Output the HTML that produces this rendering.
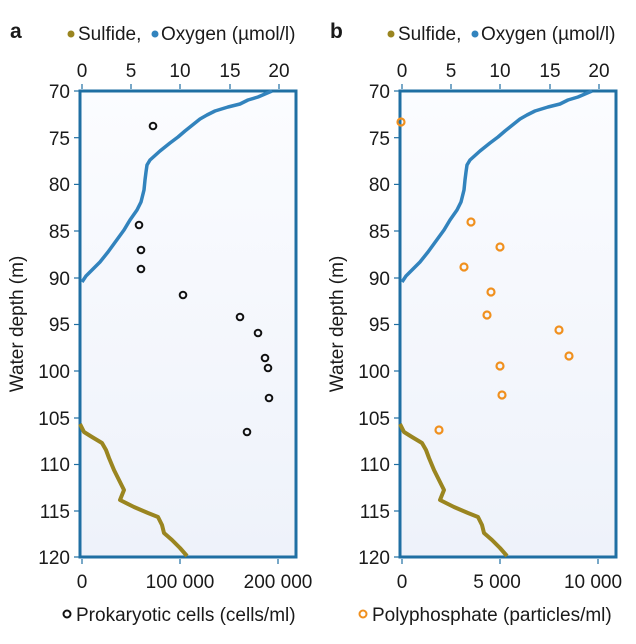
<!DOCTYPE html>
<html><head><style>body{margin:0;background:#fff}svg{display:block}text{font-family:"Liberation Sans",Arial,sans-serif;fill:#1a1a1a}</style></head><body>
<svg width="636" height="644" viewBox="0 0 636 644" xmlns="http://www.w3.org/2000/svg">
<defs>
<linearGradient id="bg" x1="0" y1="0" x2="0" y2="1"><stop offset="0" stop-color="#fbfcff"/><stop offset="1" stop-color="#eef2fa"/></linearGradient>
<g id="panel">
<rect x="80" y="91" width="216" height="466" fill="url(#bg)" stroke="#1f6fa3" stroke-width="3"/>
<path d="M272,91 L265,94 L258,97 L248,100 L240,104 L228,107 L215,111 L207,115 L200,119 L190,127 L185,131 L178,137 L170,143 L160,151 L150,160 L147,165 L146,172 L145,180 L144,190 L141,202 L137,210 L130,220 L124,230 L116,241 L108,252 L100,262 L92,270 L86,276 L82,282" fill="none" stroke="#3283bd" stroke-width="3.5" stroke-linejoin="round"/>
<path d="M80,424 L84,432 L92,437 L102,443 L106,450 L109,458 L114,470 L119,480 L124,490 L120,500 L134,507 L148,513 L158,517 L162,525 L164,533 L172,540 L180,548 L187,556" fill="none" stroke="#9a8520" stroke-width="4" stroke-linejoin="round"/>
<g stroke="#1f6fa3" stroke-width="1.2">
<line x1="82" y1="84" x2="82" y2="89"/><line x1="131" y1="84" x2="131" y2="89"/><line x1="180" y1="84" x2="180" y2="89"/><line x1="230" y1="84" x2="230" y2="89"/><line x1="279" y1="84" x2="279" y2="89"/>
<line x1="74" y1="91" x2="79" y2="91"/><line x1="74" y1="137.7" x2="79" y2="137.7"/><line x1="74" y1="184.4" x2="79" y2="184.4"/><line x1="74" y1="231" x2="79" y2="231"/><line x1="74" y1="278" x2="79" y2="278"/><line x1="74" y1="324.5" x2="79" y2="324.5"/><line x1="74" y1="371" x2="79" y2="371"/><line x1="74" y1="418" x2="79" y2="418"/><line x1="74" y1="464.5" x2="79" y2="464.5"/><line x1="74" y1="511" x2="79" y2="511"/><line x1="74" y1="557" x2="79" y2="557"/>
<line x1="82" y1="559" x2="82" y2="564"/><line x1="180" y1="559" x2="180" y2="564"/><line x1="278" y1="559" x2="278" y2="564"/>
</g>
<g font-size="19" text-anchor="middle">
<text x="82" y="77">0</text><text x="131" y="77">5</text><text x="180" y="77">10</text><text x="230" y="77">15</text><text x="279" y="77">20</text>
</g>
<g font-size="19" text-anchor="end">
<text x="70" y="98">70</text><text x="70" y="145">75</text><text x="70" y="191">80</text><text x="70" y="238">85</text><text x="70" y="285">90</text><text x="70" y="331">95</text><text x="70" y="378">100</text><text x="70" y="425">105</text><text x="70" y="471">110</text><text x="70" y="518">115</text><text x="70" y="564">120</text>
</g>
<text transform="translate(23,324) rotate(-90)" font-size="19" text-anchor="middle">Water depth (m)</text>
<circle cx="71" cy="34" r="3.5" fill="#9a8520"/><text x="78" y="40" font-size="19">Sulfide,</text>
<circle cx="155" cy="34" r="3.5" fill="#3283bd"/><text x="161" y="40" font-size="19">Oxygen (µmol/l)</text>
</g>
</defs>
<use href="#panel"/>
<text x="10" y="38" font-size="21" font-weight="bold">a</text>
<g font-size="19" text-anchor="middle"><text x="82" y="588">0</text><text x="180" y="588">100 000</text><text x="278" y="588">200 000</text></g>
<circle cx="67" cy="614" r="3.5" fill="none" stroke="#111" stroke-width="2"/>
<text x="76" y="621" font-size="19">Prokaryotic cells (cells/ml)</text>
<g fill="none" stroke="#111" stroke-width="2">
<circle cx="153" cy="126" r="3.3"/><circle cx="139" cy="225" r="3.3"/><circle cx="141" cy="250" r="3.3"/><circle cx="141" cy="269" r="3.3"/><circle cx="183" cy="295" r="3.3"/><circle cx="240" cy="317" r="3.3"/><circle cx="258" cy="333" r="3.3"/><circle cx="265" cy="358" r="3.3"/><circle cx="268" cy="368" r="3.3"/><circle cx="269" cy="398" r="3.3"/><circle cx="247" cy="432" r="3.3"/>
</g>
<use href="#panel" x="320"/>
<text x="330" y="38" font-size="21" font-weight="bold">b</text>
<g font-size="19" text-anchor="middle"><text x="402" y="588">0</text><text x="497" y="588">5 000</text><text x="593" y="588">10 000</text></g>
<circle cx="363" cy="614" r="3.5" fill="none" stroke="#f0901e" stroke-width="2"/>
<text x="372" y="621" font-size="19">Polyphosphate (particles/ml)</text>
<g fill="none" stroke="#f0901e" stroke-width="2.2">
<circle cx="401" cy="122" r="3.5"/><circle cx="471" cy="222" r="3.5"/><circle cx="500" cy="247" r="3.5"/><circle cx="464" cy="267" r="3.5"/><circle cx="491" cy="292" r="3.5"/><circle cx="487" cy="315" r="3.5"/><circle cx="559" cy="330" r="3.5"/><circle cx="569" cy="356" r="3.5"/><circle cx="500" cy="366" r="3.5"/><circle cx="502" cy="395" r="3.5"/><circle cx="439" cy="430" r="3.5"/>
</g>
</svg>
</body></html>
